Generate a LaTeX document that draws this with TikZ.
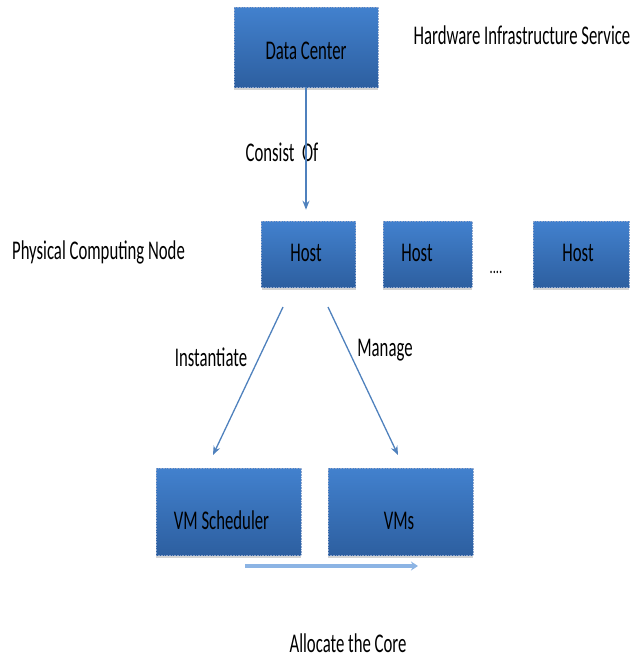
\documentclass[tikz,border=0pt]{standalone}
\usepackage{fontspec}
\setmainfont{Carlito}[FakeStretch=0.62]
\usetikzlibrary{shadows,arrows.meta}
\definecolor{boxtop}{RGB}{66,129,206}
\definecolor{boxbot}{RGB}{45,95,160}
\definecolor{boxedge}{RGB}{140,165,205}
\definecolor{arrblue}{RGB}{79,129,189}
\definecolor{arrlight}{RGB}{140,180,228}
\tikzset{
  bluebox/.style={rectangle, top color=boxtop, bottom color=boxbot, draw=boxedge, line width=0.6pt, densely dotted,
    drop shadow={shadow xshift=0pt, shadow yshift=-2.5pt, opacity=0.35, fill=gray}, inner sep=0pt},
  lbl/.style={font=\fontsize{27}{30}\selectfont, text=black, anchor=base, inner sep=0pt},
  conn/.style={draw=arrblue, line width=1.3pt, -{Stealth[length=9pt,width=7pt]}},
  fat/.style={draw=arrlight, line width=3.5pt, -{Stealth[length=7pt,width=9pt]}},
}
\begin{document}
\begin{tikzpicture}[x=1pt,y=-1pt]
\useasboundingbox (0,0) rectangle (631,662);
% boxes
\node[bluebox, minimum width=144pt, minimum height=80pt] (dc) at (306,47) {};
\node[bluebox, minimum width=94pt, minimum height=66pt] (h1) at (308.5,254) {};
\node[bluebox, minimum width=89pt, minimum height=66pt] (h2) at (427.5,254) {};
\node[bluebox, minimum width=96pt, minimum height=66pt] (h3) at (581,254) {};
\node[bluebox, minimum width=145pt, minimum height=87pt] (vs) at (228.5,511.5) {};
\node[bluebox, minimum width=145pt, minimum height=87pt] (vm) at (400.5,511.5) {};
% box texts
\node[lbl] (tdc) at (306,59) {Data Center};
\node[lbl] (th1) at (306,261) {Host};
\node[lbl] (th2) at (417,261) {Host};
\node[lbl] (th3) at (578,261) {Host};
\node[lbl] (tvs) at (221.5,529) {VM Scheduler};
\node[lbl] (tvm) at (399,529) {VMs};
% free labels
\node[lbl] (hw) at (522,44) {Hardware Infrastructure Service};
\node[lbl] (pc) at (98.5,259) {Physical Computing Node};
\node[lbl] (co) at (282,161) {Consist\ \ Of};
\node[lbl] (ins) at (211,366) {Instantiate};
\node[lbl] (man) at (385,356) {Manage};
\node[lbl] (ac) at (348,652) {Allocate the Core};
\node[font=\fontsize{20}{20}\selectfont, anchor=base, inner sep=0pt] (dots) at (496,273) {....};
% connectors
\draw[conn, shorten >=11pt] (dc.south) -- (h1.north -| dc.south);
\coordinate (i1) at (283,307);
\coordinate (i2) at (213,455);
\coordinate (m1) at (328,307);
\coordinate (m2) at (398,455);
\draw[conn] (i1) -- (i2);
\draw[conn] (m1) -- (m2);
\coordinate (a1) at (245,566);
\coordinate (a2) at (418,566);
\draw[fat] (a1) -- (a2);
\end{tikzpicture}
\end{document}
